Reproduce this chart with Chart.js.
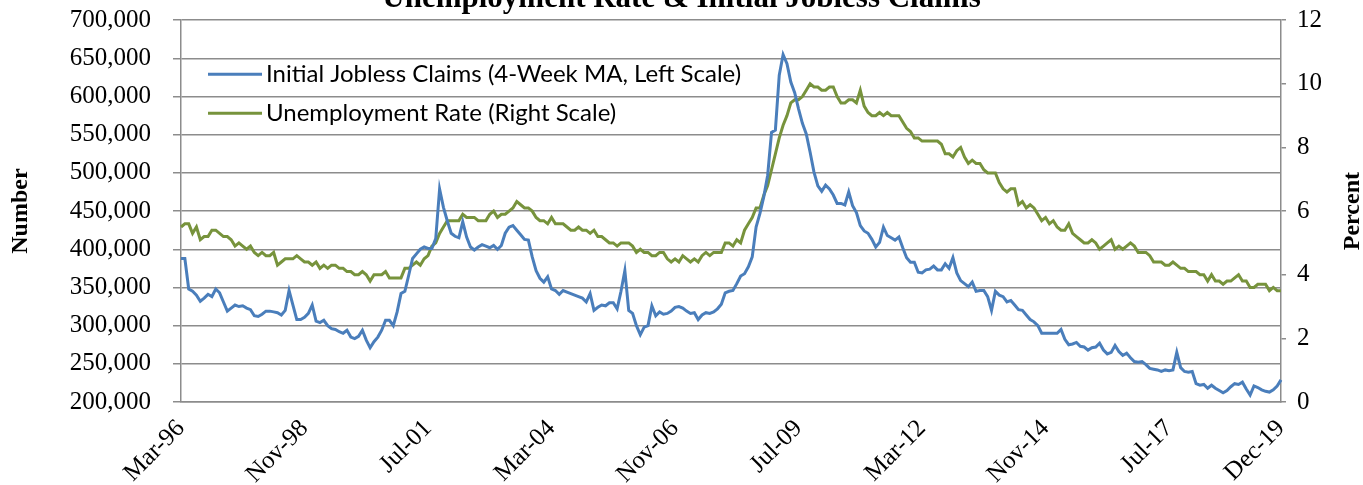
<!DOCTYPE html>
<html>
<head>
<meta charset="utf-8">
<title>Unemployment Rate &amp; Initial Jobless Claims</title>
<script src="https://cdn.jsdelivr.net/npm/chart.js@4.4.1/dist/chart.umd.min.js"></script>
<style>
  html, body { margin: 0; padding: 0; background: #fff; overflow: hidden; }
  #wrap { position: relative; width: 1363px; height: 485px; overflow: hidden; }
  #chart { position: absolute; left: 0; top: -20px; }
</style>
</head>
<body>
<div id="wrap"><canvas id="chart" width="1363" height="505"></canvas></div>
<script>
// monthly data, Mar-96 .. Dec-19
const firstYear = 1996;
const firstMonth = 3;
const monthNames = ['Jan','Feb','Mar','Apr','May','Jun','Jul','Aug','Sep','Oct','Nov','Dec'];

// labels shown under the x axis
const tickLabels = ['Mar-96','Nov-98','Jul-01','Mar-04','Nov-06','Jul-09','Mar-12','Nov-14','Jul-17','Dec-19'];

// initial jobless claims, 4-week moving average (left scale)
const claims = [
  388000,388000,348000,345000,340000,332000,336000,341000,338000,348000,
  343000,331000,319000,323000,327000,325000,326000,323000,321000,313000,
  312000,315000,319000,319000,318000,317000,314000,320000,346000,327000,
  308000,308000,311000,316000,327000,306000,304000,307000,300000,296000,
  295000,292000,290000,294000,285000,283000,286000,294000,281000,271000,
  279000,285000,294000,307000,307000,300000,318000,342000,345000,366000,
  388000,394000,400000,403000,401000,401000,414000,479000,455000,437000,
  421000,417000,415000,436000,416000,403000,399000,403000,406000,404000,
  402000,405000,400000,405000,421000,429000,431000,425000,419000,413000,
  412000,390000,372000,362000,357000,364000,348000,346000,341000,346000,
  344000,342000,340000,338000,336000,331000,342000,320000,324000,327000,
  326000,330000,330000,322000,345000,372000,320000,316000,300000,288000,
  298000,300000,326000,313000,318000,315000,316000,319000,324000,325000,
  323000,319000,316000,317000,308000,314000,317000,316000,318000,322000,
  328000,343000,345000,346000,355000,365000,368000,377000,390000,429000,
  447000,469000,497000,553000,556000,628000,655000,643000,619000,605000,
  584000,565000,551000,527000,501000,483000,476000,484000,479000,471000,
  460000,460000,458000,475000,457000,448000,431000,424000,421000,413000,
  403000,409000,429000,418000,415000,412000,416000,402000,389000,383000,
  383000,370000,369000,373000,374000,378000,373000,373000,381000,375000,
  389000,369000,359000,355000,351000,357000,345000,346000,346000,338000,
  320000,345000,340000,338000,331000,333000,327000,321000,320000,314000,
  308000,305000,300000,290000,290000,290000,290000,290000,295000,282000,
  275000,276000,278000,273000,272000,268000,271000,272000,277000,268000,
  263000,265000,274000,266000,261000,264000,258000,253000,252000,253000,
  249000,244000,243000,242000,240000,242000,241000,242000,265000,245000,
  240000,239000,240000,224000,222000,223000,218000,222000,218000,215000,
  212000,215000,220000,224000,223000,226000,217000,209000,221000,219000,
  216000,214000,213000,216000,221000,229000
];

// unemployment rate, percent (right scale)
const unemployment = [
  5.5,5.6,5.6,5.3,5.5,5.1,5.2,5.2,5.4,5.4,
  5.3,5.2,5.2,5.1,4.9,5.0,4.9,4.8,4.9,4.7,4.6,4.7,
  4.6,4.6,4.7,4.3,4.4,4.5,4.5,4.5,4.6,4.5,4.4,4.4,
  4.3,4.4,4.2,4.3,4.2,4.3,4.3,4.2,4.2,4.1,4.1,4.0,
  4.0,4.1,4.0,3.8,4.0,4.0,4.0,4.1,3.9,3.9,3.9,3.9,
  4.2,4.2,4.3,4.4,4.3,4.5,4.6,4.9,5.0,5.3,5.5,5.7,
  5.7,5.7,5.7,5.9,5.8,5.8,5.8,5.7,5.7,5.7,5.9,6.0,
  5.8,5.9,5.9,6.0,6.1,6.3,6.2,6.1,6.1,6.0,5.8,5.7,
  5.7,5.6,5.8,5.6,5.6,5.6,5.5,5.4,5.4,5.5,5.4,5.4,
  5.3,5.4,5.2,5.2,5.1,5.0,5.0,4.9,5.0,5.0,5.0,4.9,
  4.7,4.8,4.7,4.7,4.6,4.6,4.7,4.7,4.5,4.4,4.5,4.4,
  4.6,4.5,4.4,4.5,4.4,4.6,4.7,4.6,4.7,4.7,4.7,5.0,
  5.0,4.9,5.1,5.0,5.4,5.6,5.8,6.1,6.1,6.5,6.8,7.3,
  7.8,8.3,8.7,9.0,9.4,9.5,9.5,9.6,9.8,10.0,9.9,9.9,
  9.8,9.8,9.9,9.9,9.6,9.4,9.4,9.5,9.5,9.4,9.8,9.3,
  9.1,9.0,9.0,9.1,9.0,9.1,9.0,9.0,9.0,8.8,8.6,8.5,
  8.3,8.3,8.2,8.2,8.2,8.2,8.2,8.1,7.8,7.8,7.7,7.9,
  8.0,7.7,7.5,7.6,7.5,7.5,7.3,7.2,7.2,7.2,6.9,6.7,
  6.6,6.7,6.7,6.2,6.3,6.1,6.2,6.1,5.9,5.7,5.8,5.6,
  5.7,5.5,5.4,5.4,5.6,5.3,5.2,5.1,5.0,5.0,5.1,5.0,
  4.8,4.9,5.0,5.1,4.8,4.9,4.8,4.9,5.0,4.9,4.7,4.7,
  4.7,4.6,4.4,4.4,4.4,4.3,4.3,4.4,4.3,4.2,4.2,4.1,
  4.1,4.1,4.0,4.0,3.8,4.0,3.8,3.8,3.7,3.8,3.8,3.9,
  4.0,3.8,3.8,3.6,3.6,3.7,3.7,3.7,3.5,3.6,3.5,3.5
];

const months = [];
for (let i = 0; i < claims.length; i++) {
  const n = firstMonth - 1 + i;
  months.push(monthNames[n % 12] + '-' + String(firstYear + Math.floor(n / 12)).slice(2));
}

const gridGrey = '#8c8c8c';
const serif = "'Liberation Serif', 'Times New Roman', serif";

// legend inside the plot and the right axis title (reads bottom to top)
const extras = {
  id: 'extras',
  afterDraw(chart) {
    const ctx = chart.ctx;
    const area = chart.chartArea;
    ctx.save();
    ctx.font = "24px Lato, 'Open Sans', sans-serif";
    ctx.textBaseline = 'middle';
    ctx.textAlign = 'left';
    chart.data.datasets.forEach((ds, k) => {
      const y = area.top + 54 + k * 39;
      ctx.strokeStyle = ds.borderColor;
      ctx.lineWidth = 3;
      ctx.beginPath();
      ctx.moveTo(area.left + 27, y);
      ctx.lineTo(area.left + 81, y);
      ctx.stroke();
      ctx.fillStyle = '#000';
      ctx.fillText(ds.label, area.left + 85, y);
    });

    ctx.translate(area.right + 72, (area.top + area.bottom) / 2);
    ctx.rotate(-Math.PI / 2);
    ctx.font = 'bold 24px ' + serif;
    ctx.textAlign = 'center';
    ctx.fillStyle = '#000';
    ctx.fillText('Percent', 0, 0);
    ctx.restore();
  }
};

new Chart(document.getElementById('chart'), {
  type: 'line',
  data: {
    labels: months,
    datasets: [
      {
        label: 'Initial Jobless Claims (4-Week MA, Left Scale)',
        data: claims,
        yAxisID: 'yLeft',
        borderColor: '#4a7ebb',
        borderWidth: 3,
        pointRadius: 0,
        tension: 0
      },
      {
        label: 'Unemployment Rate (Right Scale)',
        data: unemployment,
        yAxisID: 'yRight',
        borderColor: '#77933c',
        borderWidth: 3,
        pointRadius: 0,
        tension: 0
      }
    ]
  },
  options: {
    responsive: false,
    animation: false,
    events: [],
    layout: { padding: 0 },
    plugins: {
      legend: { display: false },
      tooltip: { enabled: false },
      title: {
        display: true,
        text: 'Unemployment Rate & Initial Jobless Claims',
        color: '#000',
        font: { family: serif, size: 31, weight: 'bold' },
        padding: { top: 0, bottom: 3 }
      }
    },
    scales: {
      x: {
        offset: false,
        grid: { display: false },
        border: { display: true, color: gridGrey, width: 1.5 },
        ticks: {
          autoSkip: false,
          maxRotation: 45,
          minRotation: 45,
          padding: 4,
          color: '#000',
          font: { family: serif, size: 25 },
          callback(value) {
            const lab = this.getLabelForValue(value);
            return tickLabels.includes(lab) ? lab : '';
          }
        },
        afterFit(scale) { scale.height = 83; }
      },
      yLeft: {
        position: 'left',
        min: 200000,
        max: 700000,
        grid: { color: gridGrey, lineWidth: 1.5, tickLength: 8 },
        border: { color: gridGrey, width: 1.5 },
        ticks: {
          stepSize: 50000,
          padding: 22,
          color: '#000',
          font: { family: serif, size: 25 },
          callback: (v) => v.toLocaleString('en-US')
        },
        title: {
          display: true,
          text: 'Number',
          color: '#000',
          font: { family: serif, size: 24, weight: 'bold' },
          padding: { top: 6, bottom: 0 }
        },
        afterFit(scale) { scale.width = 181; }
      },
      yRight: {
        position: 'right',
        min: 0,
        max: 12,
        grid: { drawOnChartArea: false, color: gridGrey, lineWidth: 1.5, tickLength: 5 },
        border: { color: gridGrey, width: 1.5 },
        ticks: {
          stepSize: 2,
          padding: 11,
          color: '#000',
          font: { family: serif, size: 25 }
        },
        afterFit(scale) { scale.width = 82; }
      }
    }
  },
  plugins: [extras]
});
</script>
</body>
</html>
